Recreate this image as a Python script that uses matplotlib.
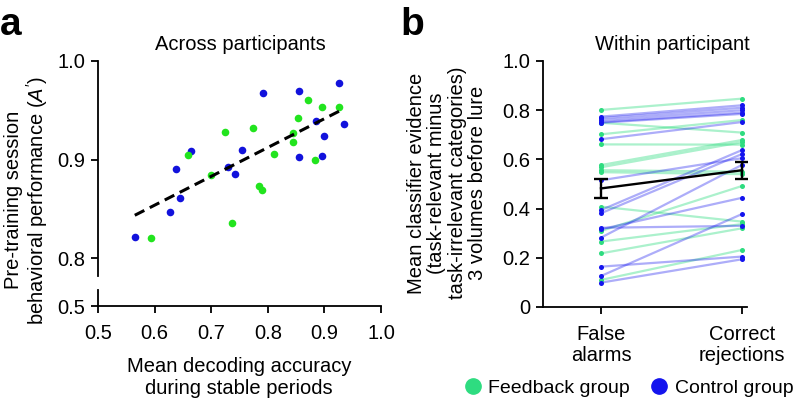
import numpy as np
import matplotlib
matplotlib.use("Agg")
import matplotlib.pyplot as plt
from matplotlib.lines import Line2D

plt.rcParams["font.family"] = ["Liberation Sans", "DejaVu Sans"]
plt.rcParams["mathtext.fontset"] = "custom"
plt.rcParams["mathtext.rm"] = "Liberation Sans"
plt.rcParams["mathtext.it"] = "Liberation Sans:italic"

# panel a: decoding accuracy vs pre-training A'
control_acc = [0.565, 0.628, 0.644, 0.638, 0.665, 0.729, 0.742, 0.755,
               0.791, 0.856, 0.856, 0.886, 0.899, 0.895, 0.925, 0.935]
control_perf = [0.822, 0.847, 0.861, 0.890, 0.909, 0.893, 0.885, 0.910,
                0.968, 0.970, 0.903, 0.939, 0.924, 0.904, 0.978, 0.936]
feedback_acc = [0.594, 0.659, 0.699, 0.725, 0.737, 0.774, 0.784, 0.789,
                0.811, 0.844, 0.845, 0.853, 0.871, 0.884, 0.895, 0.926]
feedback_perf = [0.821, 0.905, 0.884, 0.928, 0.836, 0.932, 0.873, 0.869,
                 0.906, 0.918, 0.927, 0.942, 0.960, 0.900, 0.953, 0.953]

# panel b: classifier evidence, false alarms -> correct rejections
feedback_fa = [0.801, 0.749, 0.702, 0.661, 0.577, 0.568, 0.556, 0.548,
               0.408, 0.309, 0.266, 0.218, 0.110]
feedback_cr = [0.847, 0.709, 0.760, 0.660, 0.679, 0.670, 0.550, 0.540,
               0.347, 0.492, 0.337, 0.320, 0.232]
control_fa = [0.774, 0.768, 0.760, 0.752, 0.749, 0.682, 0.515, 0.394,
              0.381, 0.322, 0.316, 0.282, 0.164, 0.126, 0.099]
control_cr = [0.820, 0.810, 0.800, 0.790, 0.785, 0.752, 0.605, 0.638,
              0.622, 0.330, 0.444, 0.578, 0.205, 0.378, 0.194]
group_mean = [0.482, 0.556]
group_sem = [0.038, 0.034]
conditions = ["False\nalarms", "Correct\nrejections"]

GREEN_A = "#22e41e"
BLUE_A = "#1212dc"
GREEN_B = "#2edc80"
BLUE_B = "#1414ee"
FS = 14.5

W, H = 800, 401
fig = plt.figure(figsize=(8, 4.01), dpi=100)


def box(x0, y0, x1, y1):
    return [x0 / W, 1 - y1 / H, (x1 - x0) / W, (y1 - y0) / H]


# ---- panel a (broken y axis) ----
ax_a = fig.add_axes(box(98, 61, 381, 276))
ax_a0 = fig.add_axes(box(98, 290, 381, 306))

ax_a.scatter(control_acc, control_perf, s=30, color=BLUE_A, lw=0, zorder=3)
ax_a.scatter(feedback_acc, feedback_perf, s=30, color=GREEN_A, lw=0, zorder=3)

all_x = np.array(control_acc + feedback_acc)
all_y = np.array(control_perf + feedback_perf)
k, b0 = np.polyfit(all_x, all_y, 1)
xs = np.array([all_x.min(), all_x.max()])
ax_a.plot(xs, k * xs + b0, "--", color="black", lw=2.2, dashes=(3.5, 2), zorder=4)

ax_a.set_xlim(0.5, 1.0)
ax_a.set_ylim(0.782, 1.0)
ax_a.set_yticks([0.8, 0.9, 1.0])
ax_a.set_yticklabels(["0.8", "0.9", "1.0"])
ax_a.set_xticks([])
for s in ["top", "right", "bottom"]:
    ax_a.spines[s].set_visible(False)

ax_a0.set_xlim(0.5, 1.0)
ax_a0.set_ylim(0.5, 0.516)
ax_a0.set_yticks([0.5])
ax_a0.set_yticklabels(["0.5"])
ax_a0.set_xticks([0.5, 0.6, 0.7, 0.8, 0.9, 1.0])
ax_a0.set_xticklabels(["0.5", "0.6", "0.7", "0.8", "0.9", "1.0"])
for s in ["top", "right"]:
    ax_a0.spines[s].set_visible(False)
ax_a0.patch.set_alpha(0)

for ax in (ax_a, ax_a0):
    for s in ax.spines.values():
        s.set_linewidth(1.3)
    ax.tick_params(width=1.3, length=5, labelsize=FS, pad=4)
ax_a0.tick_params(axis="x", pad=8)

fig.text(240 / W, 1 - 50 / H, "Across participants", ha="center",
         va="baseline", fontsize=FS)
fig.text(27 / W, 1 - 200 / H,
         "Pre-training session\nbehavioral performance ($A'$)",
         rotation=90, ha="center", va="center", fontsize=FS,
         linespacing=1.1)
fig.text(239 / W, 1 - 378 / H,
         "Mean decoding accuracy\nduring stable periods",
         ha="center", va="center", fontsize=FS, linespacing=1.2)

# ---- panel b ----
ax_b = fig.add_axes(box(543, 61, 747, 307))
pos = [0, 1]
for l, r in zip(feedback_fa, feedback_cr):
    ax_b.plot(pos, [l, r], color=GREEN_B, alpha=0.4, lw=1.6, zorder=2)
for l, r in zip(control_fa, control_cr):
    ax_b.plot(pos, [l, r], color=BLUE_B, alpha=0.35, lw=1.6, zorder=2)
ax_b.scatter([0] * len(feedback_fa), feedback_fa, s=13, color=GREEN_B, lw=0, zorder=3)
ax_b.scatter([1] * len(feedback_cr), feedback_cr, s=13, color=GREEN_B, lw=0, zorder=3)
ax_b.scatter([0] * len(control_fa), control_fa, s=13, color=BLUE_B, lw=0, zorder=3)
ax_b.scatter([1] * len(control_cr), control_cr, s=13, color=BLUE_B, lw=0, zorder=3)
ax_b.errorbar(pos, group_mean, yerr=group_sem, color="black", lw=1.7,
              capsize=5, capthick=1.7, zorder=5)

ax_b.set_xlim(-0.411, 1.035)
ax_b.set_ylim(0, 1)
ax_b.set_yticks([0, 0.2, 0.4, 0.6, 0.8, 1.0])
ax_b.set_yticklabels(["0", "0.2", "0.4", "0.6", "0.8", "1.0"])
ax_b.set_xticks(pos)
ax_b.set_xticklabels(conditions, linespacing=1.15)
for s in ["top", "right"]:
    ax_b.spines[s].set_visible(False)
for s in ax_b.spines.values():
    s.set_linewidth(1.3)
ax_b.tick_params(width=1.3, length=5, labelsize=FS, pad=4)
ax_b.tick_params(axis="x", pad=8)

fig.text(672 / W, 1 - 50 / H, "Within participant", ha="center",
         va="baseline", fontsize=FS)
fig.text(447 / W, 1 - 183 / H,
         "Mean classifier evidence\n(task-relevant minus\n"
         "task-irrelevant categories)\n3 volumes before lure",
         rotation=90, ha="center", va="center", fontsize=FS,
         linespacing=1.1)

# panel letters
fig.text(0.0, 1 - 35 / H, "a", fontsize=28, fontweight="bold", va="baseline")
fig.text(400 / W, 1 - 35 / H, "b", fontsize=28, fontweight="bold", va="baseline")

# legend
handles = [Line2D([], [], ls="none", marker="o", ms=11, color=GREEN_B),
           Line2D([], [], ls="none", marker="o", ms=11, color=BLUE_B)]
fig.legend(handles, ["Feedback group", "Control group"], ncol=2,
           loc="center left", bbox_to_anchor=(455 / W, 1 - 388 / H),
           frameon=False, fontsize=14, handletextpad=0.3,
           columnspacing=1.0, borderaxespad=0, handlelength=1.0)

fig.savefig("out.png", dpi=100)
